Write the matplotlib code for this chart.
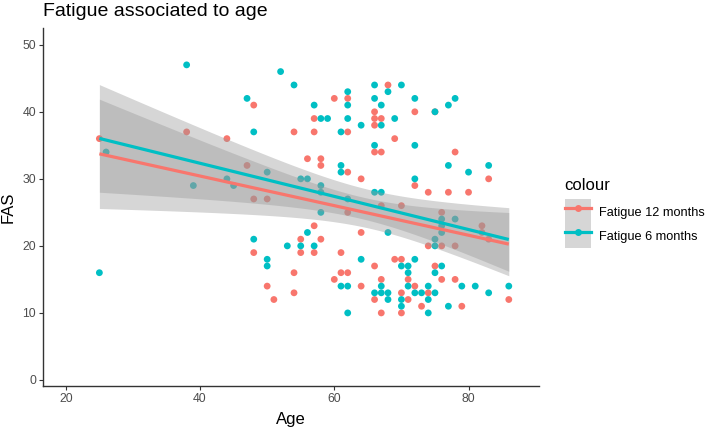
import numpy as np
import matplotlib
matplotlib.use("Agg")
import matplotlib.pyplot as plt
from matplotlib.lines import Line2D
from matplotlib.patches import Patch
from matplotlib.legend_handler import HandlerTuple

plt.rcParams['font.family'] = ['Liberation Sans', 'DejaVu Sans']

# Fatigue 12 months (age, FAS)
age_12 = [25, 38, 44, 47, 48, 48, 48, 50, 50, 51,
          54, 54, 54, 55, 55, 56, 57, 57, 57, 57,
          58, 58, 58, 60, 60, 61, 61, 62, 62, 62, 62, 62,
          64, 64, 64, 66, 66, 66, 66, 66, 66,
          67, 67, 67, 67, 67, 68, 69, 69,
          70, 70, 70, 70, 71, 71, 72, 72, 72,
          73, 74, 74, 74, 75, 75, 76, 76, 76,
          77, 78, 78, 78, 79, 80, 82, 82, 83, 83, 86]
fas_12 = [36, 37, 36, 32, 41, 27, 19, 27, 14, 12,
          37, 16, 13, 21, 19, 33, 39, 37, 23, 19,
          33, 32, 21, 42, 15, 19, 16, 42, 37, 31, 25, 16,
          30, 22, 14, 40, 39, 38, 34, 17, 12,
          39, 34, 26, 15, 10, 44, 36, 18,
          26, 18, 13, 10, 15, 12, 40, 29, 14,
          11, 28, 20, 13, 40, 17, 25, 20, 15,
          28, 34, 20, 15, 11, 28, 23, 22, 21, 30, 12]

# Fatigue 6 months (age, FAS)
age_6 = [25, 26, 38, 39, 44, 45, 47, 48, 48, 50, 50, 50,
         52, 53, 54, 55, 55, 56, 56, 57, 57, 58, 58, 58, 58,
         59, 61, 61, 61, 61, 62, 62, 62, 62, 62, 62,
         64, 64, 66, 66, 66, 66, 66, 67, 67, 67, 67, 67,
         68, 68, 68, 68, 69, 70, 70, 70, 70,
         71, 71, 71, 72, 72, 72, 72, 72, 73,
         74, 74, 74, 75, 75, 75, 75, 75, 76, 76, 76, 76,
         77, 77, 77, 78, 78, 79, 80, 81, 83, 83, 86]
fas_6 = [16, 34, 47, 29, 30, 29, 42, 37, 21, 31, 18, 17,
         46, 20, 44, 30, 20, 30, 22, 41, 20, 39, 29, 28, 25,
         39, 37, 32, 31, 14, 43, 41, 39, 27, 14, 10,
         38, 18, 44, 42, 35, 28, 13, 41, 38, 28, 14, 13,
         43, 22, 13, 12, 39, 44, 17, 12, 11,
         17, 16, 14, 42, 35, 30, 18, 13, 13,
         14, 12, 10, 40, 21, 20, 16, 13, 24, 23, 22, 17,
         41, 32, 11, 42, 24, 14, 31, 14, 32, 13, 14]

series_labels = ["Fatigue 12 months", "Fatigue 6 months"]
series_colors = ["#F8766D", "#00BFC4"]
x_ticks = [20, 40, 60, 80]
y_ticks = [0, 10, 20, 30, 40, 50]


def fit_band(x, y):
    x = np.asarray(x, float)
    y = np.asarray(y, float)
    n = len(x)
    b, a = np.polyfit(x, y, 1)
    xs = np.linspace(x.min(), x.max(), 80)
    yh = a + b * xs
    resid = y - (a + b * x)
    s = np.sqrt(np.sum(resid ** 2) / (n - 2))
    sxx = np.sum((x - x.mean()) ** 2)
    se = s * np.sqrt(1.0 / n + (xs - x.mean()) ** 2 / sxx)
    df = n - 2
    z = 1.959964
    t = z + (z ** 3 + z) / (4 * df) + (5 * z ** 5 + 16 * z ** 3 + 3 * z) / (96 * df ** 2)
    return xs, yh, yh - t * se, yh + t * se


fig = plt.figure(figsize=(7.09, 4.37), dpi=100)
ax = fig.add_axes([43 / 709, 1 - 386 / 437, (539 - 43) / 709, (386 - 28) / 437])

data = [(age_12, fas_12), (age_6, fas_6)]
for (xa, ya), c in zip(data, series_colors):
    ax.scatter(xa, ya, s=24, color=c, edgecolors='none', zorder=2)

fits = [fit_band(xa, ya) for xa, ya in data]
for xs, yh, lo, hi in fits:
    ax.fill_between(xs, lo, hi, color='#999999', alpha=0.4, linewidth=0, zorder=3)
for (xs, yh, lo, hi), c in zip(fits, series_colors):
    ax.plot(xs, yh, color=c, lw=2.3, zorder=4, solid_capstyle='butt')

ax.set_xlim(16.6, 90.5)
ax.set_ylim(-0.9, 52.5)
ax.set_xticks(x_ticks)
ax.set_yticks(y_ticks)
for sp in ['top', 'right']:
    ax.spines[sp].set_visible(False)
for sp in ['left', 'bottom']:
    ax.spines[sp].set_color('#333333')
    ax.spines[sp].set_linewidth(1.0)
ax.tick_params(axis='both', colors='#333333', labelcolor='#4D4D4D',
               labelsize=8.8, length=3, width=0.8, pad=2)

ax.set_xlabel("Age", fontsize=12, color='black', labelpad=5)
ax.set_ylabel("FAS", fontsize=12, color='black', labelpad=5)
fig.text(43 / 709, 1 - 16 / 437, "Fatigue associated to age", fontsize=14,
         ha='left', va='baseline', color='black')

handles = []
for c in series_colors:
    bg = Patch(facecolor='#999999', alpha=0.4, edgecolor='none')
    ln = Line2D([], [], color=c, lw=2.3, marker='o', markersize=5, markeredgewidth=0)
    handles.append((bg, ln))
leg = fig.legend(handles, series_labels, title="colour",
                 handler_map={tuple: HandlerTuple(ndivide=1, pad=0)},
                 loc='upper left', bbox_to_anchor=(562 / 709, 1 - 175 / 437),
                 frameon=False, fontsize=9.2, title_fontsize=12,
                 handlelength=2.1, handleheight=2.55, handletextpad=0.6,
                 labelspacing=0.0, borderaxespad=0, borderpad=0.2)
leg._legend_box.align = "left"
leg._legend_box.sep = 5

fig.savefig("out.png", dpi=100)
